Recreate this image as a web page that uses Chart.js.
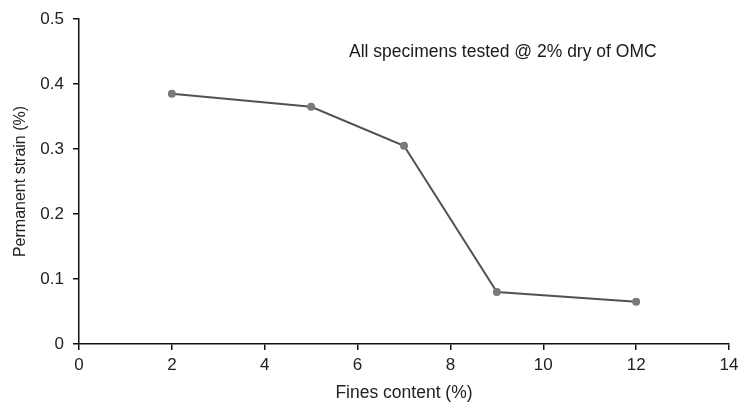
<!DOCTYPE html>
<html>
<head>
<meta charset="utf-8">
<script src="https://cdn.jsdelivr.net/npm/chart.js@4/dist/chart.umd.min.js"></script>
<style>
  html, body { margin: 0; padding: 0; background: #fff; }
  #wrap { width: 739px; height: 405px; }
</style>
</head>
<body>
<div id="wrap"><canvas id="c" width="739" height="405"></canvas></div>
<script>
// Fines content (%) against permanent strain (%)
const finesContent = [2, 5, 7, 9, 12];
const permanentStrain = [0.385, 0.365, 0.305, 0.08, 0.065];
const xTicks = [0, 2, 4, 6, 8, 10, 12, 14];
const yTicks = [0, 0.1, 0.2, 0.3, 0.4, 0.5];
const noteText = 'All specimens tested @ 2% dry of OMC';

const FONT = '"Liberation Sans", Arial, sans-serif';

// Free-standing note inside the plot area
const notePlugin = {
  id: 'note',
  afterDraw(chart) {
    const ctx = chart.ctx;
    ctx.save();
    ctx.font = '17.5px ' + FONT;
    ctx.fillStyle = '#1a1a1a';
    ctx.textAlign = 'left';
    ctx.textBaseline = 'middle';
    ctx.fillText(noteText, 349, 52);
    ctx.restore();
  }
};

new Chart(document.getElementById('c'), {
  type: 'line',
  data: {
    datasets: [{
      data: finesContent.map((x, i) => ({ x, y: permanentStrain[i] })),
      borderColor: '#525252',
      borderWidth: 2,
      pointBackgroundColor: '#7a7a7a',
      pointBorderColor: '#7a7a7a',
      pointRadius: 3,
      pointStyle: 'circle',
      tension: 0
    }]
  },
  options: {
    responsive: false,
    animation: false,
    layout: { padding: { top: 19, right: 10, left: 0, bottom: 0 } },
    plugins: { legend: { display: false }, tooltip: { enabled: false } },
    scales: {
      x: {
        type: 'linear',
        min: 0, max: 14,
        afterBuildTicks: s => { s.ticks = xTicks.map(v => ({ value: v })); },
        afterFit: s => { s.height = 61; s.paddingLeft = 0; s.paddingRight = 0; },
        border: { color: '#111', width: 1.5 },
        grid: { drawOnChartArea: false, drawTicks: true, tickLength: 6, color: '#111', lineWidth: 1.5 },
        ticks: { color: '#222', font: { family: FONT, size: 17 }, padding: 5, maxRotation: 0 },
        title: { display: true, text: 'Fines content (%)', color: '#222', font: { family: FONT, size: 17.5 }, padding: { top: 0, bottom: 1 } }
      },
      y: {
        type: 'linear',
        min: 0, max: 0.5,
        afterBuildTicks: s => { s.ticks = yTicks.map(v => ({ value: v })); },
        afterFit: s => { s.width = 79; s.paddingTop = 0; s.paddingBottom = 0; },
        border: { color: '#111', width: 1.5 },
        grid: { drawOnChartArea: false, drawTicks: true, tickLength: 6, color: '#111', lineWidth: 1.5 },
        ticks: { color: '#222', font: { family: FONT, size: 17 }, padding: 9, callback: v => String(+v.toFixed(1)) },
        title: { display: true, text: 'Permanent strain (%)', color: '#222', font: { family: FONT, size: 16 }, padding: { top: 11, bottom: 0 } }
      }
    }
  },
  plugins: [notePlugin]
});
</script>
</body>
</html>
